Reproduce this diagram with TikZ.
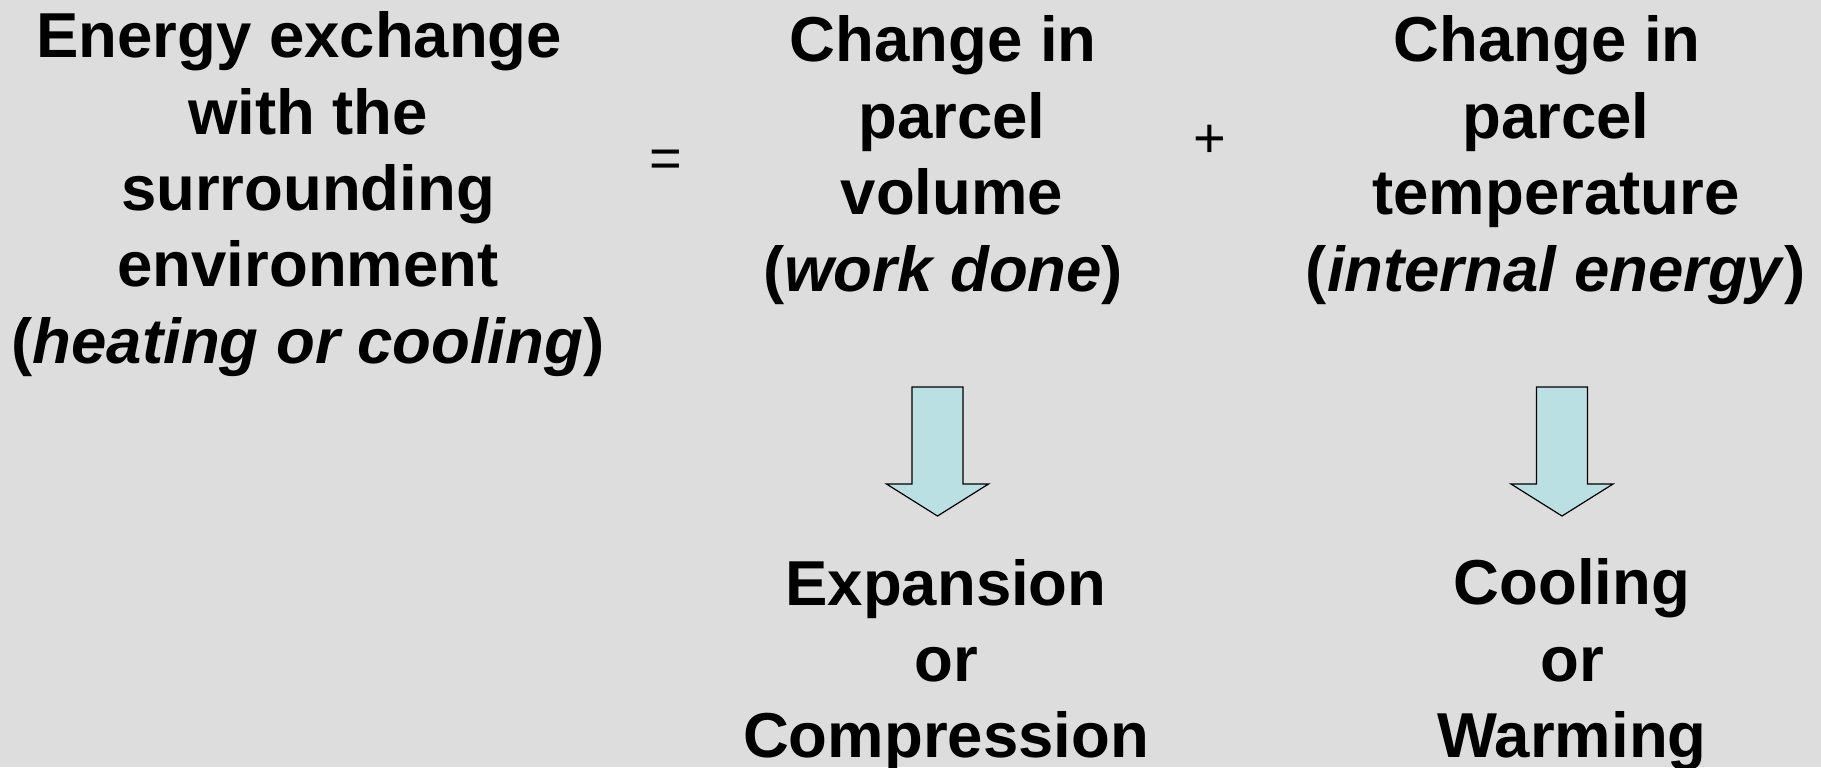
\documentclass[tikz,border=0pt]{standalone}
\usepackage{fontspec}
\setmainfont{Liberation Sans}
\usetikzlibrary{positioning}
\definecolor{slide}{RGB}{221,221,221}
\definecolor{pale}{RGB}{187,224,227}
\newcommand\tailgap{\hspace*{0.278em}}
\tikzset{
  term/.style={font=\fontsize{31.75}{38.2}\selectfont\bfseries,align=center,inner sep=0pt},
  sign/.style={font=\fontsize{28}{33}\selectfont,inner sep=0pt},
  % block arrow, placed at the middle of its top edge
  pics/downarrow/.style={code={
    \draw[fill=#1,line width=0.6pt,line join=miter]
      (-25.5,0) -- (25.5,0) -- (25.5,97) -- (51,97) -- (0,129)
      -- (-51,97) -- (-25.5,97) -- cycle;
  }},
  pics/downarrow/.default=pale,
}
\begin{document}
\begin{tikzpicture}[x=0.5pt,y=-0.5pt]
  \fill[slide] (0,0) rectangle (1821,767);
  \useasboundingbox (0,0) rectangle (1821,767);
  \node[term] (energy) at (308,194) {Energy exchange\tailgap\\with the\\surrounding\tailgap\\environment\\(\textit{heating or cooling})};
  \node[sign] (eqsign) at (666,164) {=};
  \node[term] (volume) at (952,160) {Change in\tailgap\\parcel\\volume\\(\textit{work done})\tailgap};
  \node[sign] (plussign) at (1210,141) {+};
  \node[term] (temper) at (1556,160) {Change in\tailgap\\parcel\\temperature\\(\textit{internal energy})};
  \pic at (937.5,387) {downarrow};
  \pic at (1562,387) {downarrow};
  \node[term] (expand) at (946,665) {Expansion\\or\\Compression};
  \node[term] (coolwarm) at (1572,665) {Cooling\\or\\Warming};
\end{tikzpicture}
\end{document}
